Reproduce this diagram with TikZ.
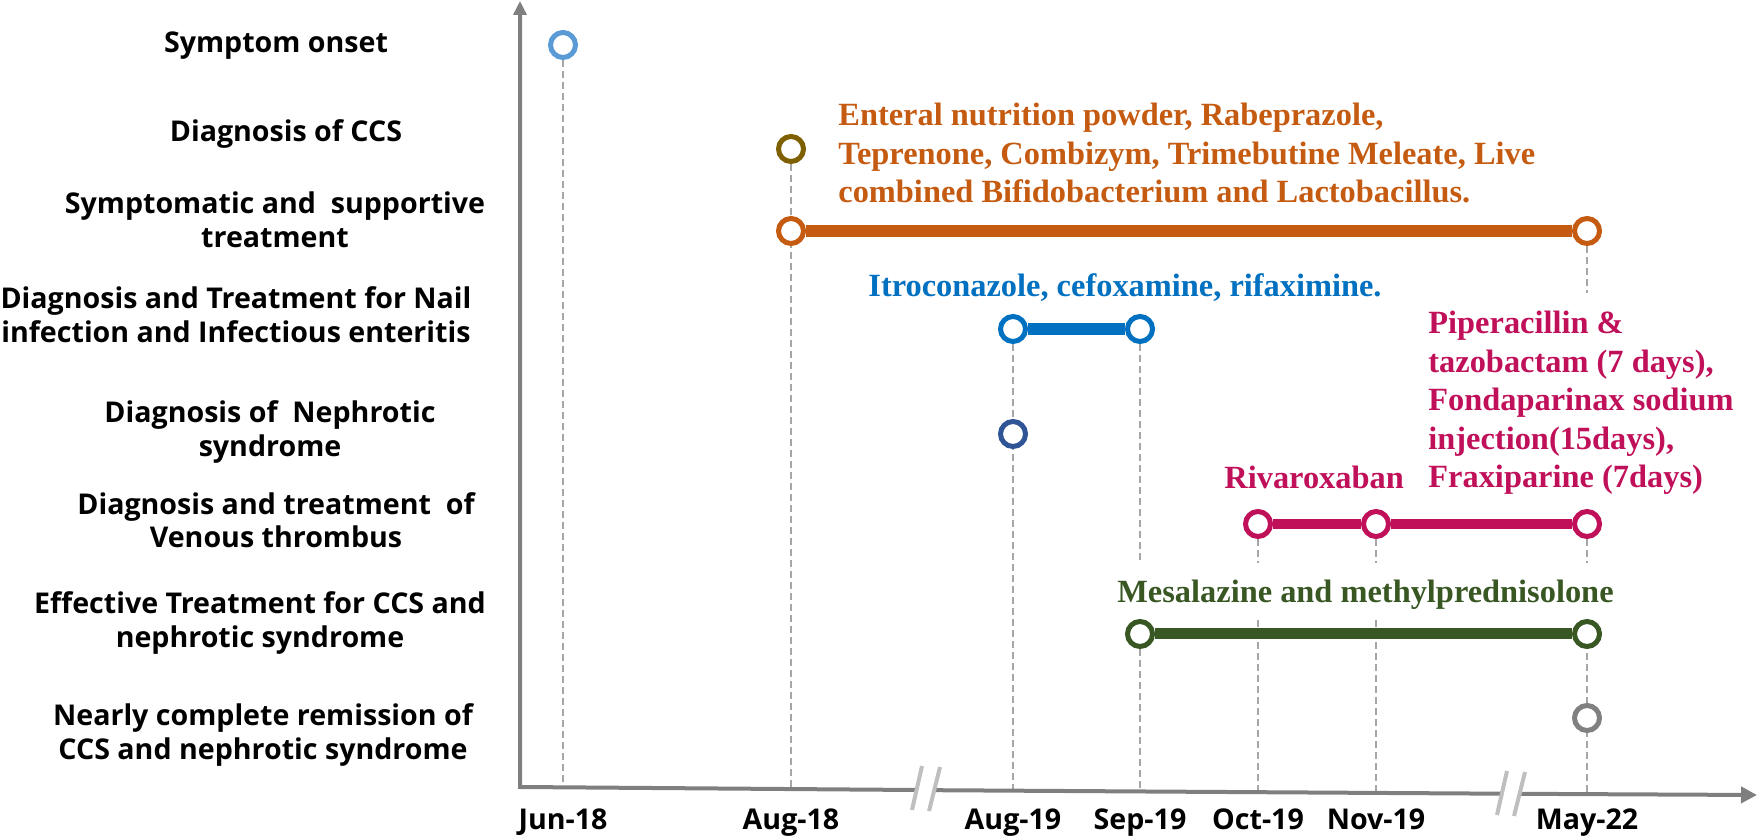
\documentclass[tikz,border=0pt]{standalone}
\usepackage{fontspec}
\usepackage{tikz}
\usetikzlibrary{arrows.meta,backgrounds}
\newfontfamily\rowfont{Open Sans}
\newfontfamily\drugfont{Liberation Serif}
\definecolor{onsetblue}{HTML}{5B9BD5}
\definecolor{ccsolive}{HTML}{7F6000}
\definecolor{suporange}{HTML}{C55A11}
\definecolor{infblue}{HTML}{0070C0}
\definecolor{nephnavy}{HTML}{2F5597}
\definecolor{vtepink}{HTML}{C0105A}
\definecolor{effgreen}{HTML}{385723}
\definecolor{remgray}{HTML}{808080}
\definecolor{axisgray}{HTML}{7F7F7F}
\definecolor{guidegray}{HTML}{A6A6A6}
\definecolor{brkgray}{HTML}{BFBFBF}

\begin{document}
\begin{tikzpicture}[x=0.5pt,y=-0.5pt,
  evdot/.style={circle,draw,fill=white,line width=2.5pt,minimum size=12.5pt,inner sep=0pt},
  guide/.style={guidegray,line width=1pt,dash pattern=on 3.5pt off 2pt},
  axisline/.style={axisgray,line width=2pt},
  brk/.style={brkgray,line width=2pt},
  rowlabel/.style={font=\rowfont\bfseries\fontsize{14.3}{16.8}\selectfont,align=center,inner sep=0pt},
  drug/.style={font=\drugfont\bfseries\fontsize{16.2}{19.2}\selectfont,align=left,inner sep=0pt}]
  \useasboundingbox (0,0) rectangle (1758,839);

  % axes with the two breaks
  \coordinate (ytop) at (520,1);
  \coordinate (org) at (520,787);
  \coordinate (gap1l) at (916,790);
  \coordinate (gap1r) at (935,790.2);
  \coordinate (gap2l) at (1502,793.7);
  \coordinate (gap2r) at (1519,793.8);
  \coordinate (xend) at (1757,795);
  \draw[axisline,{Triangle[length=7pt,width=6.5pt]}-] (ytop) -- (org) -- (gap1l);
  \draw[axisline] (gap1r) -- (gap2l);
  \draw[axisline,-{Triangle[length=8pt,width=8pt]}] (gap2r) -- (xend);
  \foreach \bx/\by in {922/766,1507/771}{
    \draw[brk] (\bx,\by) -- ++(-10,44);
    \draw[brk] (\bx+18,\by+1) -- ++(-11,44);
  }
  \foreach \n/\dx/\lbl in {jun18/563/Jun-18,aug18/791/Aug-18,aug19/1013/Aug-19,sep19/1140/Sep-19,oct19/1258/Oct-19,nov19/1376/Nov-19,may22/1587/May-22}{
    \coordinate (tick-\n) at (\dx,{787+(\dx-520)*0.0065});
    \node[rowlabel,anchor=base] (date-\n) at (\dx,829) {\lbl};
  }

  % events
  \node[evdot,draw=onsetblue] (onset) at (563,45) {};
  \node[evdot,draw=ccsolive] (ccs) at (791,149) {};
  \node[evdot,draw=suporange] (sup1) at (791,231) {};
  \node[evdot,draw=suporange] (sup2) at (1587,231) {};
  \node[evdot,draw=infblue] (inf1) at (1013,329) {};
  \node[evdot,draw=infblue] (inf2) at (1140,329) {};
  \node[evdot,draw=nephnavy] (neph) at (1013,434) {};
  \node[evdot,draw=vtepink] (vte1) at (1258,524) {};
  \node[evdot,draw=vtepink] (vte2) at (1376,524) {};
  \node[evdot,draw=vtepink] (vte3) at (1587,524) {};
  \node[evdot,draw=effgreen] (eff1) at (1140,634) {};
  \node[evdot,draw=effgreen] (eff2) at (1587,634) {};
  \node[evdot,draw=remgray] (rem) at (1587,718) {};

  \coordinate (cut-sep) at (1140,562);
  \coordinate (cut-oct) at (1258,563);
  \coordinate (back-oct) at (1258,620);
  \coordinate (cut-nov) at (1376,563);
  \coordinate (back-nov) at (1376,620);
  \coordinate (cut-may) at (1587,293);
  \coordinate (cut-may2) at (1587,563);
  \coordinate (back-may) at (1587,620);

  \begin{pgfonlayer}{background}
    \draw[guide] (onset) -- (tick-jun18);
    \draw[guide] (ccs) -- (tick-aug18);
    \draw[guide] (inf1) -- (tick-aug19);
    \draw[guide] (inf2) -- (cut-sep) (eff1) -- (tick-sep19);
    \draw[guide] (vte1) -- (cut-oct) (back-oct) -- (tick-oct19);
    \draw[guide] (vte2) -- (cut-nov) (back-nov) -- (tick-nov19);
    \draw[guide] (sup2) -- (cut-may) (vte3) -- (cut-may2) (back-may) -- (tick-may22);
    \draw[suporange,line width=6pt] (sup1) -- (sup2);
    \draw[infblue,line width=6pt] (inf1) -- (inf2);
    \draw[vtepink,line width=5pt] (vte1) -- (vte2) -- (vte3);
    \draw[effgreen,line width=5.5pt] (eff1) -- (eff2);
  \end{pgfonlayer}

  % row labels
  \node[rowlabel,anchor=base] (lab-onset) at (276,53) {Symptom onset};
  \node[rowlabel,anchor=base] (lab-ccs) at (286,142) {Diagnosis of CCS};
  \node[rowlabel] (lab-sup) at (275,220) {Symptomatic and~ supportive\\treatment};
  \node[rowlabel] (lab-inf) at (236,315) {Diagnosis and Treatment for Nail\\infection and Infectious enteritis};
  \node[rowlabel] (lab-neph) at (270,432) {Diagnosis of~ Nephrotic\\syndrome};
  \node[rowlabel] (lab-vte) at (276,520) {Diagnosis and treatment~ of\\Venous thrombus};
  \node[rowlabel] (lab-eff) at (260,623) {Effective Treatment for CCS and\\nephrotic syndrome};
  \node[rowlabel] (lab-rem) at (263,735) {Nearly complete remission of\\CCS and nephrotic syndrome};

  % drugs
  \node[drug,text=suporange,anchor=west] (drug-sup) at (838,153) {Enteral nutrition powder, Rabeprazole,\\Teprenone, Combizym, Trimebutine Meleate, Live\\combined Bifidobacterium and Lactobacillus.};
  \node[drug,text=infblue,anchor=base west] (drug-inf) at (868,297) {Itroconazole, cefoxamine, rifaximine.};
  \node[drug,text=vtepink,anchor=base west] (drug-riva) at (1224,489) {Rivaroxaban};
  \node[drug,text=vtepink,anchor=west] (drug-vte) at (1428,403) {Piperacillin \&\\tazobactam (7 days),\\Fondaparinax sodium\\injection(15days),\\Fraxiparine (7days)};
  \node[drug,text=effgreen,anchor=base west] (drug-eff) at (1117,603) {Mesalazine and methylprednisolone};
\end{tikzpicture}
\end{document}
